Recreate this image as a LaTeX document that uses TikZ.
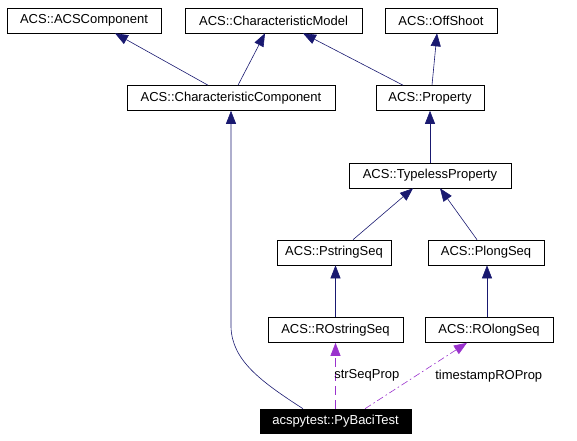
\documentclass[tikz,border=0pt]{standalone}
\usepackage{fontspec}
\setmainfont{Liberation Sans}
\usetikzlibrary{arrows.meta}
\definecolor{inhblue}{RGB}{25,25,112}
\definecolor{usepurple}{RGB}{154,50,205}

\begin{document}
\begin{tikzpicture}[x=1pt, y=-1pt,
  cls/.style={draw, rectangle, minimum height=25pt, inner sep=0pt, line width=0.6pt,
    font=\fontsize{13}{15}\selectfont},
  inh/.style={draw=inhblue, line width=0.6pt, -{Triangle[length=13pt,width=10pt]}},
  use/.style={draw=usepurple, line width=0.6pt, -{Triangle[length=13pt,width=10pt]}},
  lbl/.style={font=\fontsize{13}{15}\selectfont, inner sep=0pt}]
  \useasboundingbox (0,0) rectangle (577,440);
  \node[cls, minimum width=154pt] (acscomp) at (84.00,20.50) {ACS::ACSComponent};
  \node[cls, minimum width=177pt] (charmodel) at (273.50,20.50) {ACS::CharacteristicModel};
  \node[cls, minimum width=112pt] (offshoot) at (441.00,20.50) {ACS::OffShoot};
  \node[cls, minimum width=208pt] (charcomp) at (231.00,98.00) {ACS::CharacteristicComponent};
  \node[cls, minimum width=108pt] (property) at (430.00,98.00) {ACS::Property};
  \node[cls, minimum width=162pt] (typeless) at (430.00,175.50) {ACS::TypelessProperty};
  \node[cls, minimum width=114pt] (pstring) at (334.00,252.50) {ACS::PstringSeq};
  \node[cls, minimum width=116pt] (plong) at (486.00,252.50) {ACS::PlongSeq};
  \node[cls, minimum width=135pt] (rostring) at (335.50,330.00) {ACS::ROstringSeq};
  \node[cls, minimum width=128pt] (rolong) at (489.00,330.00) {ACS::ROlongSeq};
  \node[cls, minimum width=151pt, minimum height=24pt, fill=black, text=white] (pybaci) at (335.50,421.00) {acspytest::PyBaciTest};
  \coordinate (bend) at (231.00,327.00);
  % Draw the inheritance relations
  \draw[inh] ([xshift=-23pt]charcomp.north) -- ([xshift=31pt]acscomp.south);
  \draw[inh] ([xshift=7pt]charcomp.north) -- ([xshift=-8.5pt]charmodel.south);
  \draw[inh] ([xshift=-27pt]property.north) -- ([xshift=29.5pt]charmodel.south);
  \draw[inh] ([xshift=2pt]property.north) -- ([xshift=-4pt]offshoot.south);
  \draw[inh] (typeless) -- (property);
  \draw[inh] ([xshift=19pt]pstring.north) -- ([xshift=-17pt]typeless.south);
  \draw[inh] ([xshift=-9pt]plong.north) -- ([xshift=10pt]typeless.south);
  \draw[inh] (rostring.north) -- (rostring.north |- pstring.south);
  \draw[inh] ([xshift=-2pt]rolong.north) -- ([xshift=-2pt]rolong.north |- plong.south);
  \draw[inh] ([xshift=-32.5pt]pybaci.north) .. controls (260.00,381.00) and (232.00,360.00) .. (bend) -- (charcomp.south);
  % Draw the usage relations
  \draw[use, dash pattern=on 9pt off 5pt] (pybaci.north) -- (rostring.south)
    node[lbl, midway, anchor=west, xshift=-1.5pt] {strSeqProp};
  \draw[use, dash pattern=on 7pt off 3pt on 1.5pt off 3pt] ([xshift=29.5pt]pybaci.north) -- ([xshift=-22pt]rolong.south)
    node[lbl, midway, anchor=west, xshift=19pt] {timestampROProp};
\end{tikzpicture}
\end{document}
